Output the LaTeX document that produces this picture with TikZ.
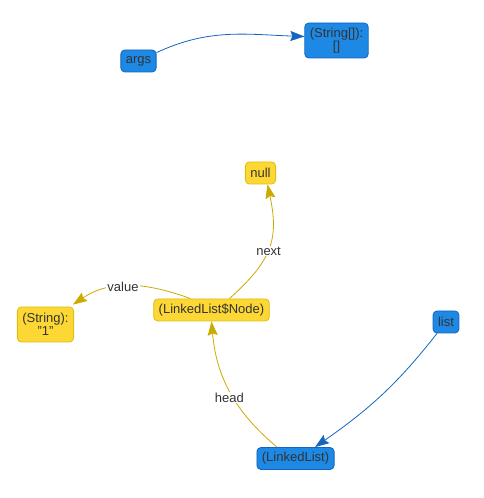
\documentclass[tikz,border=0pt]{standalone}
\usepackage{fontspec}
\setmainfont{Liberation Sans}
\usetikzlibrary{arrows.meta}
\definecolor{refblue}{RGB}{30,136,229}
\definecolor{refblueline}{RGB}{21,101,192}
\definecolor{valyellow}{RGB}{253,216,53}
\definecolor{valyellowline}{RGB}{222,188,20}
\definecolor{edgeyellow}{RGB}{204,170,0}
\definecolor{labelgray}{RGB}{51,51,51}
\begin{document}
\begin{tikzpicture}[
  x=1pt, y=1pt,
  font=\fontsize{13}{13}\selectfont,
  obj/.style={draw, rounded corners=4pt, inner xsep=5pt, inner ysep=3pt,
    minimum height=22pt, align=center, text=labelgray, line width=0.8pt},
  tall/.style={minimum height=35pt},
  ref/.style={obj, fill=refblue, draw=refblueline},
  val/.style={obj, fill=valyellow, draw=valyellowline},
  refedge/.style={-{Stealth[length=14pt, width=10pt, inset=2pt]}, line width=0.8pt, refblueline},
  valedge/.style={-{Stealth[length=14pt, width=10pt, inset=2pt]}, line width=0.8pt, edgeyellow},
  elabel/.style={fill=white, inner sep=1pt, text=labelgray}
]
\useasboundingbox (0,0) rectangle (484,498);

\node[ref] (args) at (138.5,437) {args};
\node[ref, tall] (strarr) at (336.5,457.5) {(String[]):\\{}[]};
\node[val] (null) at (260.5,325) {null};
\node[val] (lnode) at (211.5,188) {(LinkedList\$Node)};
\node[val, tall] (str1) at (45.5,173.5) {(String):\\"1"};
\node[ref] (list) at (446,176) {list};
\node[ref] (llist) at (295.5,39.5) {(LinkedList)};

\draw[refedge] (args) to[out=25, in=178] ([yshift=4pt]strarr.west);
\draw[valedge] ([xshift=18pt]lnode.north) to[out=42, in=-78, looseness=1.2]
  node[elabel, pos=0.47, xshift=1pt] {next} ([xshift=7pt]null.south);
\draw[valedge] ([xshift=-21pt]lnode.north) to[out=160, in=34]
  node[elabel, pos=0.56] {value} ([xshift=-1pt,yshift=2pt]str1.north east);
\draw[valedge] ([xshift=-18.5pt]llist.north) to[out=140, in=-85]
  node[elabel, pos=0.45, xshift=-4pt] {head} (lnode.south);
\draw[refedge] ([xshift=-9pt]list.south) to[out=232, in=35] ([xshift=19.5pt]llist.north);
\end{tikzpicture}
\end{document}
